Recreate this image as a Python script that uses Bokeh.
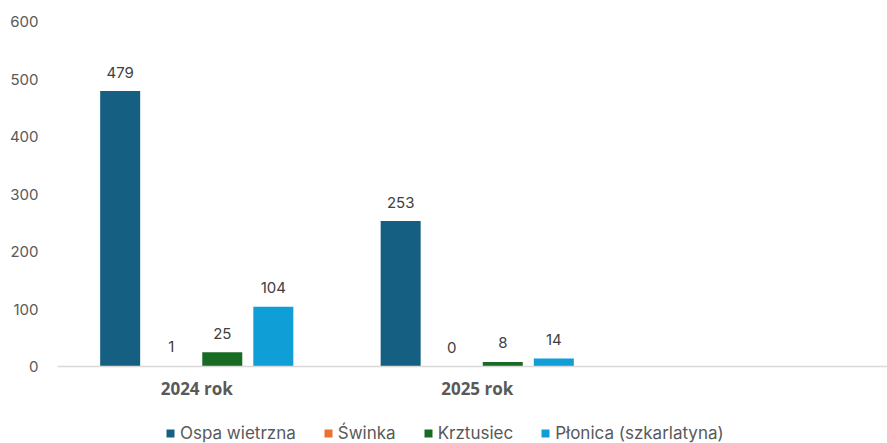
from bokeh.plotting import figure
from bokeh.layouts import column
from bokeh.models import ColumnDataSource, Range1d, FixedTicker, Legend, LegendItem, LabelSet
from bokeh.core.properties import value
from bokeh.embed import file_html
from bokeh.resources import INLINE

years = ["2024 rok", "2025 rok"]
series = ["Ospa wietrzna", "Świnka", "Krztusiec", "Płonica (szkarlatyna)"]
ospa = [479, 253]
swinka = [1, 0]
krztusiec = [25, 8]
plonica = [104, 14]
colors = ["#156082", "#E97132", "#196B24", "#0F9ED5"]
y_ticks = [0, 100, 200, 300, 400, 500, 600]

FONT = "Inter"
W = 887
p = figure(width=W, height=404, output_backend="svg", toolbar_location=None,
           x_range=Range1d(0.0036, 2.9626), y_range=Range1d(0, 600),
           min_border_left=57, min_border_right=0, min_border_top=21, min_border_bottom=38)
p.outline_line_color = None
p.xgrid.visible = False
p.ygrid.visible = False

pitch = 0.182
bw = 0.1426
for j, (name, vals) in enumerate(zip(series, [ospa, swinka, krztusiec, plonica])):
    xs = [i + 0.5 + (j - 1.5) * pitch for i in range(len(years))]
    src = ColumnDataSource(dict(x=xs, top=vals, lab=[str(v) for v in vals]))
    p.vbar(x="x", top="top", width=bw, source=src, fill_color=colors[j], line_color=None)
    p.add_layout(LabelSet(x="x", y="top", text="lab", source=src, text_align="center",
                          text_baseline="middle", y_offset=19, text_font=value(FONT),
                          text_font_size="15px", text_color="#404040"))

for ax in (p.xaxis[0], p.yaxis[0]):
    ax.major_tick_line_color = None
    ax.minor_tick_line_color = None
    ax.major_tick_out = 0
    ax.minor_tick_out = 0
    ax.major_label_text_color = "#595959"

p.yaxis.ticker = FixedTicker(ticks=y_ticks)
p.yaxis.axis_line_color = None
p.yaxis.major_label_standoff = 19
p.yaxis.major_label_text_font = FONT
p.yaxis.major_label_text_font_size = "15px"

p.xaxis.ticker = FixedTicker(ticks=[i + 0.5 for i in range(len(years))])
p.xaxis.major_label_overrides = {i + 0.5: y for i, y in enumerate(years)}
p.xaxis.axis_line_color = "#D9D9D9"
p.xaxis.axis_line_width = 1.5
p.xaxis.major_label_standoff = 10
p.xaxis.major_label_text_font = "Open Sans"
p.xaxis.major_label_text_font_size = "17px"
p.xaxis.major_label_text_font_style = "bold"

# legend strip
p2 = figure(width=W, height=39, output_backend="svg", toolbar_location=None,
            x_range=Range1d(0, 1), y_range=Range1d(0, 1), x_axis_type=None, y_axis_type=None,
            min_border=0)
p2.outline_line_color = None
p2.xgrid.visible = False
p2.ygrid.visible = False
items = []
for name, c in zip(series, colors):
    # swatch renderers kept outside the visible range; only their legend glyphs show
    r = p2.vbar(x=[5], top=[1], width=0.1, fill_color=c, line_color=None)
    items.append(LegendItem(label=name, renderers=[r]))
legend = Legend(items=items, orientation="horizontal", location=(108, 0),
                glyph_width=10, glyph_height=10, spacing=27, padding=0, margin=0,
                label_standoff=5, label_text_font=FONT, label_text_font_size="17px",
                label_text_color="#595959", border_line_color=None, background_fill_alpha=0)
p2.add_layout(legend, "center")

layout = column(p, p2, spacing=0)
open("out.html", "w").write(file_html(layout, INLINE))
